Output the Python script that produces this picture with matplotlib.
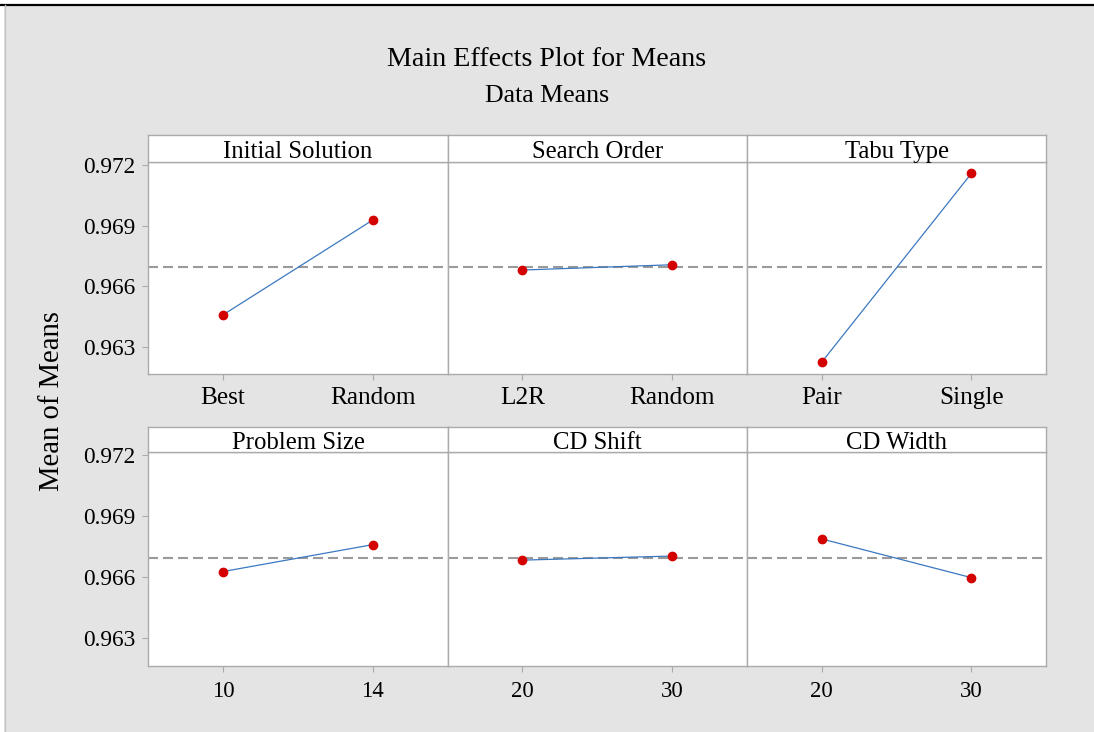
import matplotlib
matplotlib.use("Agg")
import matplotlib.pyplot as plt
from matplotlib.patches import Rectangle
from matplotlib.lines import Line2D

plt.rcParams["font.family"] = ["Liberation Serif", "DejaVu Serif"]

# Factor names and their level labels
factors = ["Initial Solution", "Search Order", "Tabu Type",
           "Problem Size", "CD Shift", "CD Width"]
initial_solution_levels = ["Best", "Random"]
search_order_levels = ["L2R", "Random"]
tabu_type_levels = ["Pair", "Single"]
problem_size_levels = ["10", "14"]
cd_shift_levels = ["20", "30"]
cd_width_levels = ["20", "30"]

# Mean of means at each level
initial_solution_means = [0.96460, 0.96928]
search_order_means = [0.96681, 0.96707]
tabu_type_means = [0.96226, 0.97158]
problem_size_means = [0.96628, 0.96760]
cd_shift_means = [0.96684, 0.96704]
cd_width_means = [0.96788, 0.96598]

grand_mean = 0.96694
y_ticks = [0.963, 0.966, 0.969, 0.972]

level_sets = [initial_solution_levels, search_order_levels, tabu_type_levels,
              problem_size_levels, cd_shift_levels, cd_width_levels]
mean_sets = [initial_solution_means, search_order_means, tabu_type_means,
             problem_size_means, cd_shift_means, cd_width_means]

W, H = 1094, 732
fig = plt.figure(figsize=(W / 100, H / 100), dpi=100, facecolor="white")

BG = "#e4e4e4"
FRAME = "#ababab"
LINE_BLUE = "#3b78c0"
DOT_RED = "#d40000"
MEAN_GREY = "#9a9a9a"


def fx(px):
    return px / W


def fy(py):
    # pixel measured from top -> figure fraction from bottom
    return 1 - py / H


# page background and border lines
fig.patches.append(Rectangle((fx(4), -0.01), 1.02 - fx(4), fy(5) + 0.01,
                             transform=fig.transFigure,
                             facecolor=BG, edgecolor="none", zorder=-10))
fig.lines.append(Line2D([0, 1], [fy(5), fy(5)], transform=fig.transFigure,
                        color="black", lw=1.6, zorder=-5))
fig.lines.append(Line2D([fx(4.5), fx(4.5)], [0, fy(5)], transform=fig.transFigure,
                        color="#c4c4c4", lw=1.0, zorder=-5))

fig.text(0.5, fy(59), "Main Effects Plot for Means", ha="center", va="center",
         fontsize=20.2, color="black")
fig.text(0.5, fy(96), "Data Means", ha="center", va="center",
         fontsize=18.6, color="black")
fig.text(fx(52), fy(401), "Mean of Means", ha="center", va="center",
         rotation=90, fontsize=20.6, color="black")

col_edges = [148.3, 447.6, 746.9, 1046.2]
rows = [(135.3, 162.3, 374.3), (426.7, 452.3, 665.7)]  # strip top, strip bottom, data bottom
ylim = (0.96166, 0.97213)

for i, (name, levels, means) in enumerate(zip(factors, level_sets, mean_sets)):
    r, c = divmod(i, 3)
    top, mid, bot = rows[r]
    x0, x1 = col_edges[c], col_edges[c + 1]

    ax = fig.add_axes([fx(x0), fy(bot), fx(x1) - fx(x0), (bot - mid) / H])
    ax.set_facecolor("white")
    xs = list(range(len(levels)))
    ax.axhline(grand_mean, color=MEAN_GREY, lw=1.5, ls=(0, (4.8, 2.4)), zorder=1)
    ax.plot(xs, means, color=LINE_BLUE, lw=0.9, zorder=2)
    ax.plot(xs, means, ls="none", marker="o", ms=6, color=DOT_RED,
            markeredgecolor=DOT_RED, zorder=3)
    ax.set_xlim(-0.5, len(levels) - 0.5)
    ax.set_ylim(*ylim)
    ax.set_xticks(xs)
    numeric = all(lv.isdigit() for lv in levels)
    ax.set_xticklabels(levels, fontsize=16.5 if numeric else 18.2)
    ax.set_yticks(y_ticks)
    if c == 0:
        ax.set_yticklabels([f"{v:.3f}" for v in y_ticks], fontsize=16.8)
    else:
        ax.tick_params(axis="y", left=False, labelleft=False)
    ax.tick_params(axis="both", direction="out", length=4, width=0.8,
                   color=FRAME, pad=5)
    ax.tick_params(axis="x", pad=7 if numeric else 5.5)
    for sp in ax.spines.values():
        sp.set_color(FRAME)
        sp.set_linewidth(1.0)

    sax = fig.add_axes([fx(x0), fy(mid), fx(x1) - fx(x0), (mid - top) / H])
    sax.set_facecolor("white")
    sax.set_xticks([])
    sax.set_yticks([])
    for sp in sax.spines.values():
        sp.set_color(FRAME)
        sp.set_linewidth(1.0)
    sax.text(0.5, 0.38, name, transform=sax.transAxes, ha="center", va="center",
             fontsize=17.8, color="black")

fig.savefig("out.png", dpi=100, facecolor=fig.get_facecolor())
